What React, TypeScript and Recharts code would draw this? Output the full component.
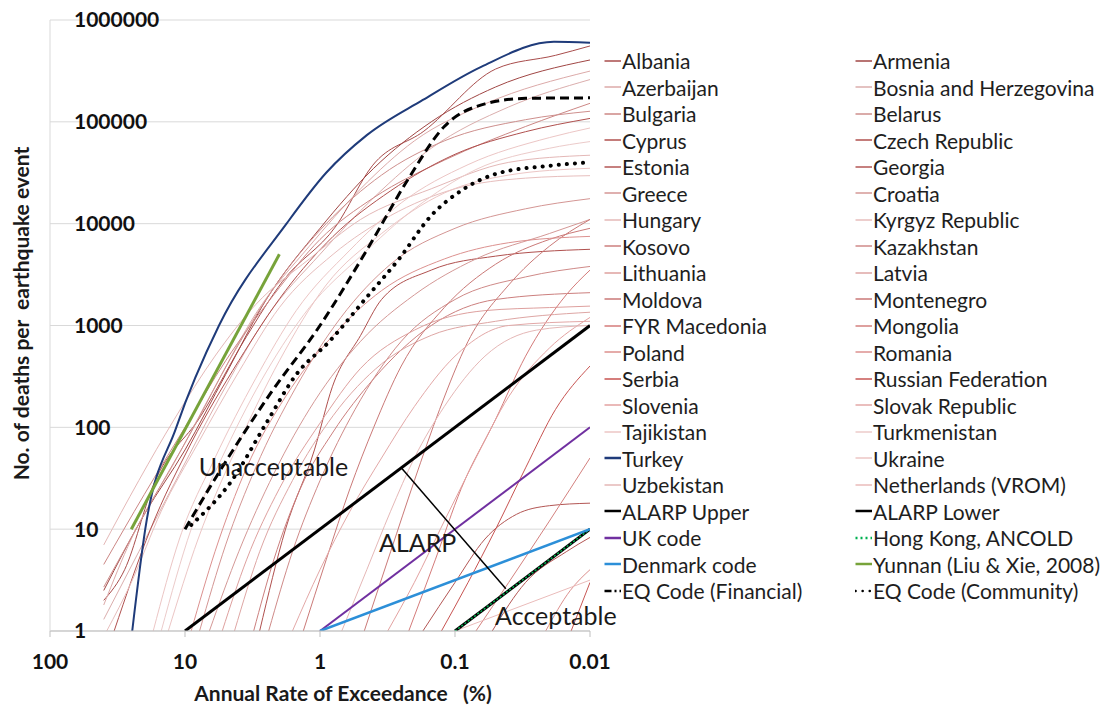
import React from 'react'
import { LineChart, Line, XAxis, YAxis, CartesianGrid, Legend, ReferenceLine, ReferenceDot, Label } from 'recharts'

type Pt = [number, number]

const xTicks = [100, 10, 1, 0.1, 0.01]
const yTicks = [1, 10, 100, 1000, 10000, 100000, 1000000]

// country curves: [annual rate of exceedance (%), deaths]
const albania: Pt[] = [[40, 2], [28, 4], [17, 28], [7.7, 127], [3.5, 780], [1.9, 2700], [0.76, 9500], [0.41, 37000], [0.17, 81000], [0.05, 330000], [0.018, 450000], [0.01, 556000]]
const armenia: Pt[] = [[40, 2.5], [20, 14], [10, 60], [5, 330], [2.5, 1800], [1, 9000], [0.4, 35000], [0.15, 100000], [0.05, 220000], [0.01, 405000]]
const azerbaijan: Pt[] = [[40, 1.8], [25, 8], [12, 45], [6, 250], [3, 1300], [1.2, 6000], [0.5, 22000], [0.2, 65000], [0.06, 150000], [0.01, 315000]]
const bosnia: Pt[] = [[40, 1.3], [22, 6], [11, 35], [5.5, 200], [2.5, 1200], [1, 5000], [0.4, 18000], [0.15, 55000], [0.04, 140000], [0.01, 260000]]
const bulgaria: Pt[] = [[40, 4.5], [20, 22], [10, 100], [5, 450], [2.2, 2000], [1, 7000], [0.4, 18000], [0.12, 42000], [0.03, 90000], [0.01, 152000]]
const belarus: Pt[] = [[40, 2.7], [18, 18], [9, 90], [4.5, 500], [2, 2800], [0.9, 10000], [0.35, 30000], [0.12, 65000], [0.03, 105000], [0.01, 127000]]
const cyprus: Pt[] = [[33.5, 1], [18, 10], [9, 70], [4, 450], [1.8, 2200], [0.8, 7500], [0.3, 21000], [0.1, 48000], [0.03, 80000], [0.01, 108000]]
const czech: Pt[] = [[2.8, 1], [1.8, 10], [1.1, 60], [0.81, 250], [0.5, 800], [0.35, 1800], [0.15, 3500], [0.05, 4800], [0.01, 5600]]
const estonia: Pt[] = [[0.053, 1], [0.03, 3], [0.015, 6], [0.01, 8.3]]
const georgia: Pt[] = [[0.173, 1], [0.1, 3], [0.06, 8], [0.035, 14], [0.02, 17], [0.01, 18]]
const greece: Pt[] = [[7.8, 1], [5, 7], [3, 40], [1.5, 250], [0.7, 1200], [0.3, 4000], [0.1, 9000], [0.03, 14000], [0.01, 17600]]
const croatia: Pt[] = [[6.6, 1], [4, 6], [2.2, 35], [1.1, 180], [0.5, 700], [0.2, 2000], [0.07, 4500], [0.02, 8000], [0.01, 11000]]
const hungary: Pt[] = [[40, 7], [22, 30], [12, 120], [6, 500], [3, 1600], [1.2, 4500], [0.5, 11000], [0.15, 22000], [0.04, 40000], [0.01, 47000]]
const kyrgyz: Pt[] = [[38, 1], [25, 3], [15, 15], [8, 70], [4, 350], [2, 1500], [0.8, 5000], [0.3, 12000], [0.1, 22000], [0.03, 28000], [0.01, 29600]]
const kosovo: Pt[] = [[3.1, 1], [2.2, 5], [1.4, 25], [0.8, 90], [0.4, 300], [0.15, 1000], [0.05, 1800], [0.01, 2100]]
const kazakhstan: Pt[] = [[2.4, 1], [1.6, 6], [1, 30], [0.55, 150], [0.25, 700], [0.1, 1800], [0.03, 3000], [0.01, 3800]]
const lithuania: Pt[] = [[5.3, 1], [3.5, 5], [2, 25], [1, 110], [0.5, 380], [0.2, 900], [0.06, 1400], [0.02, 1500], [0.01, 1550]]
const latvia: Pt[] = [[4.3, 1], [2.8, 6], [1.6, 30], [0.8, 130], [0.35, 420], [0.15, 800], [0.05, 1100], [0.01, 1350]]
const moldova: Pt[] = [[0.47, 1], [0.3, 6], [0.2, 30], [0.13, 150], [0.08, 700], [0.04, 2500], [0.02, 6000], [0.01, 11000]]
const montenegro: Pt[] = [[1.33, 1], [0.9, 5], [0.6, 25], [0.4, 100], [0.25, 400], [0.12, 1500], [0.05, 4000], [0.02, 7000], [0.01, 9000]]
const macedonia: Pt[] = [[0.22, 1], [0.14, 5], [0.09, 25], [0.05, 120], [0.03, 500], [0.015, 2000], [0.01, 3500]]
const mongolia: Pt[] = [[0.07, 1], [0.04, 3], [0.02, 12], [0.01, 50]]
const poland: Pt[] = [[0.0213, 1], [0.014, 2.5], [0.01, 4]]
const romania: Pt[] = [[9, 1], [6, 6], [3.5, 40], [1.8, 200], [0.8, 800], [0.35, 2200], [0.12, 4500], [0.04, 6500], [0.01, 7500]]
const serbia: Pt[] = [[0.126, 1], [0.08, 3], [0.05, 10], [0.03, 40], [0.018, 150], [0.01, 400]]
const russia: Pt[] = [[0.0138, 1], [0.01, 3]]
const slovenia: Pt[] = [[0.315, 1], [0.2, 3], [0.12, 12], [0.07, 50], [0.04, 200], [0.02, 600], [0.01, 1200]]
const slovak: Pt[] = [[1.6, 1], [1, 4], [0.6, 15], [0.35, 50], [0.2, 160], [0.1, 500], [0.04, 1000], [0.01, 1100]]
const tajikistan: Pt[] = [[17.2, 1], [11, 8], [6, 50], [3, 300], [1.5, 1400], [0.6, 5500], [0.25, 16000], [0.08, 38000], [0.02, 70000], [0.01, 87000]]
const turkmenistan: Pt[] = [[15, 1], [9, 10], [5, 60], [2.5, 350], [1.2, 1500], [0.5, 4800], [0.2, 14000], [0.07, 34000], [0.02, 55000], [0.01, 64000]]
const turkey: Pt[] = [[24.6, 1], [19.7, 10], [11.6, 100], [5.6, 1000], [1.77, 10000], [0.9, 31600], [0.45, 74000], [0.173, 164000], [0.064, 347000], [0.0185, 611000], [0.01, 597000]]
const ukraine: Pt[] = [[13.3, 1], [8, 8], [4, 70], [2, 450], [0.9, 2500], [0.35, 8000], [0.12, 20000], [0.04, 30000], [0.01, 35000]]
const uzbekistan: Pt[] = [[0.69, 1], [0.45, 4], [0.3, 15], [0.2, 50], [0.12, 160], [0.06, 500], [0.025, 900], [0.01, 1000]]

// criteria lines
const netherlands: Pt[] = [[0.1, 1], [0.01, 3.16]]
const alarpUpper: Pt[] = [[10, 1], [0.01, 1000]]
const alarpLower: Pt[] = [[0.1, 1], [0.01, 10]]
const ukCode: Pt[] = [[1, 1], [0.01, 100]]
const hongKong: Pt[] = [[0.1, 1], [0.01, 10]]
const denmark: Pt[] = [[1, 1], [0.01, 10]]
const yunnan: Pt[] = [[25, 10], [2, 5000]]
const eqFinancial: Pt[] = [[10, 10], [6.3, 28], [2.3, 220], [1, 1000], [0.45, 5500], [0.22, 28000], [0.12, 90000], [0.06, 150000], [0.03, 170000], [0.01, 172000]]
const eqCommunity: Pt[] = [[9, 11], [4.5, 30], [2.5, 110], [1.5, 330], [0.85, 700], [0.45, 1900], [0.26, 4500], [0.15, 12000], [0.088, 21500], [0.049, 31000], [0.02, 37000], [0.01, 40000]]

type Series = {
  name: string
  pts: Pt[]
  color: string
  width?: number
  dash?: string
  curve?: 'monotone' | 'linear'
  cap?: 'round' | 'butt'
  swatch?: string
}

// order follows the legend, row by row
const series: Series[] = [
  { name: 'Albania', pts: albania, color: '#a84c4b' },
  { name: 'Armenia', pts: armenia, color: '#a04644' },
  { name: 'Azerbaijan', pts: azerbaijan, color: '#dcaaa9' },
  { name: 'Bosnia and Herzegovina', pts: bosnia, color: '#dbaead' },
  { name: 'Bulgaria', pts: bulgaria, color: '#cc8785' },
  { name: 'Belarus', pts: belarus, color: '#ce8f8d' },
  { name: 'Cyprus', pts: cyprus, color: '#b0504e' },
  { name: 'Czech Republic', pts: czech, color: '#b0504e' },
  { name: 'Estonia', pts: estonia, color: '#b35654' },
  { name: 'Georgia', pts: georgia, color: '#b35654' },
  { name: 'Greece', pts: greece, color: '#d49694' },
  { name: 'Croatia', pts: croatia, color: '#d49896' },
  { name: 'Hungary', pts: hungary, color: '#e4b8b7' },
  { name: 'Kyrgyz Republic', pts: kyrgyz, color: '#e7bebd' },
  { name: 'Kosovo', pts: kosovo, color: '#cc7f7e' },
  { name: 'Kazakhstan', pts: kazakhstan, color: '#cf8a88' },
  { name: 'Lithuania', pts: lithuania, color: '#dea09e' },
  { name: 'Latvia', pts: latvia, color: '#dea6a4' },
  { name: 'Moldova', pts: moldova, color: '#ca7977' },
  { name: 'Montenegro', pts: montenegro, color: '#ca7977' },
  { name: 'FYR Macedonia', pts: macedonia, color: '#d47b7a' },
  { name: 'Mongolia', pts: mongolia, color: '#d3807e' },
  { name: 'Poland', pts: poland, color: '#dc8f8d' },
  { name: 'Romania', pts: romania, color: '#dc918f' },
  { name: 'Serbia', pts: serbia, color: '#c75351' },
  { name: 'Russian Federation', pts: russia, color: '#c75755' },
  { name: 'Slovenia', pts: slovenia, color: '#e3a2a1' },
  { name: 'Slovak Republic', pts: slovak, color: '#e3a8a7' },
  { name: 'Tajikistan', pts: tajikistan, color: '#ecc6c5' },
  { name: 'Turkmenistan', pts: turkmenistan, color: '#eccbca' },
  { name: 'Turkey', pts: turkey, color: '#1f3b7a', width: 2 },
  { name: 'Ukraine', pts: ukraine, color: '#ecc6c5' },
  { name: 'Uzbekistan', pts: uzbekistan, color: '#e5b7b6' },
  { name: 'Netherlands (VROM)', pts: netherlands, color: '#eabbba', curve: 'linear' },
  { name: 'ALARP Upper', pts: alarpUpper, color: '#000000', width: 3, curve: 'linear' },
  { name: 'ALARP Lower', pts: alarpLower, color: '#000000', width: 3, curve: 'linear' },
  { name: 'UK code', pts: ukCode, color: '#7030a0', width: 2, curve: 'linear' },
  { name: 'Hong Kong, ANCOLD', pts: hongKong, color: '#00b050', width: 1.5, dash: '2 2', curve: 'linear', swatch: '2 3' },
  { name: 'Denmark code', pts: denmark, color: '#2c8fd8', width: 2.5, curve: 'linear' },
  { name: 'Yunnan (Liu & Xie, 2008)', pts: yunnan, color: '#77a33a', width: 3, curve: 'linear' },
  { name: 'EQ Code (Financial)', pts: eqFinancial, color: '#000000', width: 3, dash: '9 5', swatch: '7 3 2 3' },
  { name: 'EQ Code (Community)', pts: eqCommunity, color: '#000000', width: 4, dash: '0.1 8', cap: 'round', swatch: '0.1 7' },
]

const FONT = 'Lato, "Open Sans", sans-serif'

const toRows = (pts: Pt[]) => pts.map(([x, y]) => ({ x, y }))

function LegendBox() {
  return (
    <div
      style={{
        display: 'grid',
        gridTemplateColumns: '251px 251px',
        gridAutoRows: '26.5px',
        fontFamily: FONT,
        fontSize: 21,
        color: '#1e1e1e',
      }}
    >
      {series.map((s) => (
        <div key={s.name} style={{ display: 'flex', alignItems: 'center', whiteSpace: 'nowrap' }}>
          <svg width={18} height={10} style={{ flex: 'none' }}>
            <line
              x1={0.5}
              y1={5}
              x2={17}
              y2={5}
              stroke={s.color}
              strokeWidth={s.width && s.width > 1 ? 2.5 : 1.5}
              strokeDasharray={s.swatch}
              strokeLinecap={s.cap ?? 'butt'}
            />
          </svg>
          <span>{s.name}</span>
        </div>
      ))}
    </div>
  )
}

const note = (value: string) => ({ value, position: 'center' as const, fontSize: 25, fontFamily: FONT, fill: '#1a1a1a' })

export default function App() {
  return (
    <div style={{ position: 'absolute', left: 0, top: 0, background: '#fff' }}>
      <LineChart width={1104} height={705} margin={{ top: 20, right: 514, bottom: 30, left: 50 }}>
        <CartesianGrid vertical={false} stroke="#d9d9d9" />
        <XAxis
          dataKey="x"
          type="number"
          scale="log"
          domain={[0.01, 100]}
          reversed
          allowDataOverflow
          ticks={xTicks}
          interval={0}
          height={44}
          stroke="#bfbfbf"
          tickSize={6}
          tickMargin={17}
          tick={{ fill: '#111', fontSize: 21, fontWeight: 700, fontFamily: FONT }}
        >
          <Label
            content={({ viewBox }: any) => (
              <text
                x={viewBox.x + viewBox.width / 2 + 23}
                y={viewBox.y + 70}
                textAnchor="middle"
                style={{ whiteSpace: 'pre' }}
                fontFamily={FONT}
                fontWeight={700}
                fontSize={21}
                fill="#1a1a1a"
              >
                {'Annual Rate of Exceedance   (%)'}
              </text>
            )}
          />
        </XAxis>
        <YAxis
          dataKey="y"
          type="number"
          scale="log"
          domain={[1, 1000000]}
          allowDataOverflow
          ticks={yTicks}
          interval={0}
          width={1}
          mirror
          tickLine={false}
          tickSize={0}
          tickMargin={24}
          stroke="#d9d9d9"
          tick={{ fill: '#111', fontSize: 21, fontWeight: 700, fontFamily: FONT }}
        >
          <Label
            content={({ viewBox }: any) => {
              const cx = viewBox.x - 30
              const cy = viewBox.y + viewBox.height / 2 - 12
              return (
                <text
                  x={cx}
                  y={cy}
                  transform={`rotate(-90 ${cx} ${cy})`}
                  textAnchor="middle"
                  dominantBaseline="central"
                  style={{ whiteSpace: 'pre' }}
                  fontFamily={FONT}
                  fontWeight={700}
                  fontSize={21}
                  fill="#1a1a1a"
                >
                  {'No. of deaths per  earthquake event'}
                </text>
              )
            }}
          />
        </YAxis>
        <Legend
          layout="vertical"
          align="center"
          verticalAlign="middle"
          content={() => <LegendBox />}
          wrapperStyle={{ left: 604, top: 47.5, width: 502, height: 560 }}
        />
        {series.map((s) => (
          <Line
            key={s.name}
            name={s.name}
            data={toRows(s.pts)}
            dataKey="y"
            type={s.curve ?? 'monotone'}
            stroke={s.color}
            strokeWidth={s.width ?? 1}
            strokeDasharray={s.dash}
            strokeLinecap={s.cap ?? 'butt'}
            dot={false}
            activeDot={false}
            isAnimationActive={false}
          />
        ))}
        <ReferenceLine
          segment={[{ x: 0.25, y: 40 }, { x: 0.042, y: 2.6 }]}
          stroke="#000"
          strokeWidth={1.5}
        />
        <ReferenceDot x={2.21} y={40.8} r={0} fill="none" stroke="none" label={note('Unacceptable')} />
        <ReferenceDot x={0.189} y={7.3} r={0} fill="none" stroke="none" label={note('ALARP')} />
        <ReferenceDot x={0.0179} y={1.4} r={0} fill="none" stroke="none" label={note('Acceptable')} />
      </LineChart>
    </div>
  )
}
